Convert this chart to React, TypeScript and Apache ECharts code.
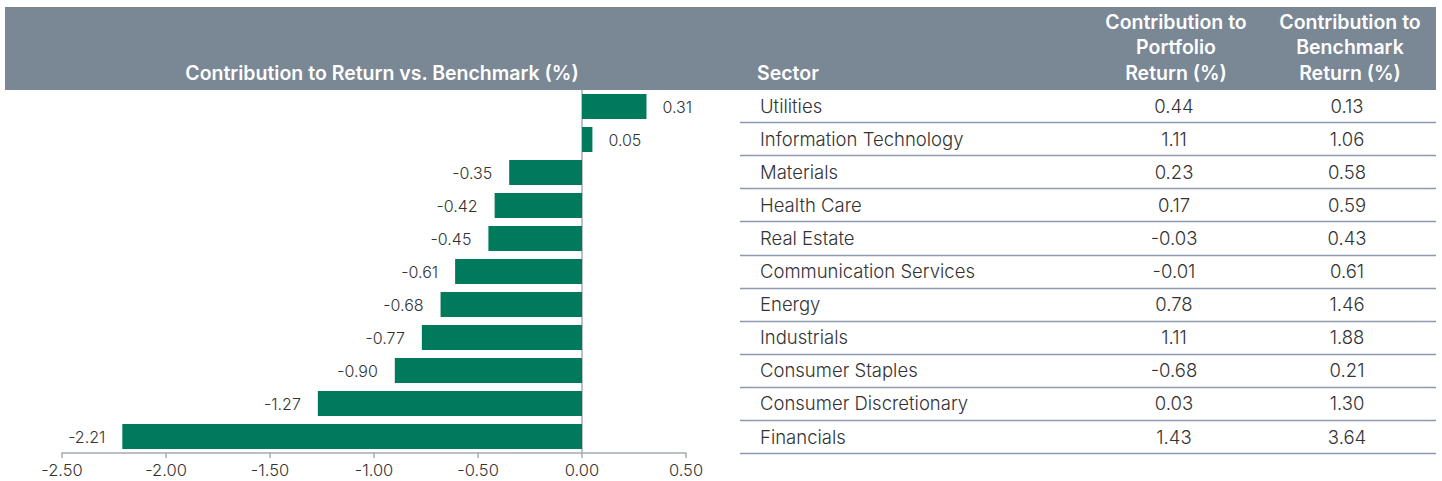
import React, { useEffect, useRef } from "react";
import * as echarts from "echarts";

const sectors = [
  "Utilities",
  "Information Technology",
  "Materials",
  "Health Care",
  "Real Estate",
  "Communication Services",
  "Energy",
  "Industrials",
  "Consumer Staples",
  "Consumer Discretionary",
  "Financials",
];
const contribVsBenchmark = [0.31, 0.05, -0.35, -0.42, -0.45, -0.61, -0.68, -0.77, -0.9, -1.27, -2.21];
const portfolioReturn = ["0.44", "1.11", "0.23", "0.17", "-0.03", "-0.01", "0.78", "1.11", "-0.68", "0.03", "1.43"];
const benchmarkReturn = ["0.13", "1.06", "0.58", "0.59", "0.43", "0.61", "1.46", "1.88", "0.21", "1.30", "3.64"];
const axisTicks = [-2.5, -2.0, -1.5, -1.0, -0.5, 0.0, 0.5];

const chartTitle = "Contribution to Return vs. Benchmark (%)";
const sectorHeader = "Sector";
const col1Header = ["Contribution to", "Portfolio", "Return (%)"];
const col2Header = ["Contribution to", "Benchmark", "Return (%)"];

const FONT = "Inter";
const HEADER_BG = "#7a8795";
const BAR_COLOR = "#007a5c";
const TEXT = "#333333";
const LINE = "#8d9bb0";
const AXIS = "#a3abb4";

export default function App() {
  const ref = useRef<HTMLDivElement>(null);
  useEffect(() => {
    if (!ref.current) return;
    const chart = echarts.init(ref.current, undefined, { renderer: "svg" });

    const gridTop = 90;
    const gridBottomY = 453;
    const n = sectors.length;
    const band = (gridBottomY - gridTop) / n;

    const headFont = `600 19.5px ${FONT}`;
    const rowFont = `300 18.5px ${FONT}`;

    const graphics: any[] = [];
    graphics.push({
      type: "rect",
      shape: { x: 5, y: 7, width: 1431, height: 83 },
      style: { fill: HEADER_BG },
      z: -1,
    });
    graphics.push({
      type: "text",
      x: 382,
      y: 73,
      style: { text: chartTitle, fill: "#fff", font: headFont, textAlign: "center", textVerticalAlign: "middle" },
    });
    graphics.push({
      type: "text",
      x: 757,
      y: 73,
      style: { text: sectorHeader, fill: "#fff", font: headFont, textAlign: "left", textVerticalAlign: "middle" },
    });
    const headerYs = [22, 47, 73];
    col1Header.forEach((t, i) =>
      graphics.push({
        type: "text",
        x: 1176,
        y: headerYs[i],
        style: { text: t, fill: "#fff", font: headFont, textAlign: "center", textVerticalAlign: "middle" },
      })
    );
    col2Header.forEach((t, i) =>
      graphics.push({
        type: "text",
        x: 1350,
        y: headerYs[i],
        style: { text: t, fill: "#fff", font: headFont, textAlign: "center", textVerticalAlign: "middle" },
      })
    );
    const rowTop = 89;
    const rowH = 33.1;
    sectors.forEach((s, i) => {
      const cy = rowTop + rowH * (i + 0.5);
      graphics.push({
        type: "text",
        x: 760,
        y: cy,
        style: { text: s, fill: TEXT, font: rowFont, textAlign: "left", textVerticalAlign: "middle" },
      });
      graphics.push({
        type: "text",
        x: 1174,
        y: cy,
        style: { text: portfolioReturn[i], fill: TEXT, font: rowFont, textAlign: "center", textVerticalAlign: "middle" },
      });
      graphics.push({
        type: "text",
        x: 1347,
        y: cy,
        style: { text: benchmarkReturn[i], fill: TEXT, font: rowFont, textAlign: "center", textVerticalAlign: "middle" },
      });
      const ly = Math.round(rowTop + rowH * (i + 1)) + 0.5;
      graphics.push({
        type: "line",
        shape: { x1: 740, y1: ly, x2: 1436, y2: ly },
        style: { stroke: LINE, lineWidth: 1.5 },
      });
    });

    chart.setOption({
      animation: false,
      grid: { left: 62, right: 1442 - 686, top: gridTop, bottom: 481 - gridBottomY, containLabel: false },
      graphic: graphics,
      xAxis: {
        type: "value",
        min: axisTicks[0],
        max: axisTicks[axisTicks.length - 1],
        interval: 0.5,
        axisLine: { show: true, lineStyle: { color: AXIS, width: 1.5 } },
        axisTick: { show: true, length: 5, lineStyle: { color: AXIS, width: 1.5 } },
        splitLine: { show: false },
        axisLabel: {
          color: TEXT,
          fontFamily: FONT,
          fontWeight: 300,
          fontSize: 16.5,
          margin: 8,
          formatter: (v: number) => v.toFixed(2),
        },
      },
      yAxis: {
        type: "category",
        data: sectors,
        inverse: true,
        axisLine: { show: true, onZero: true, lineStyle: { color: AXIS, width: 1.5 } },
        axisTick: { show: false },
        axisLabel: { show: false },
      },
      series: [
        {
          type: "bar",
          data: contribVsBenchmark.map((v) => ({
            value: v,
            label: { position: v >= 0 ? "right" : "left", distance: v >= 0 ? 16 : 17 },
          })),
          barWidth: 25,
          itemStyle: { color: BAR_COLOR },
          label: {
            show: true,
            color: TEXT,
            fontFamily: FONT,
            fontWeight: 300,
            fontSize: 16,
            formatter: (p: any) => Number(p.value).toFixed(2),
          },
          z: 1,
        },
      ],
    });
    return () => chart.dispose();
  }, []);
  return <div ref={ref} style={{ position: "absolute", left: 0, top: 0, width: 1442, height: 481 }} />;
}
